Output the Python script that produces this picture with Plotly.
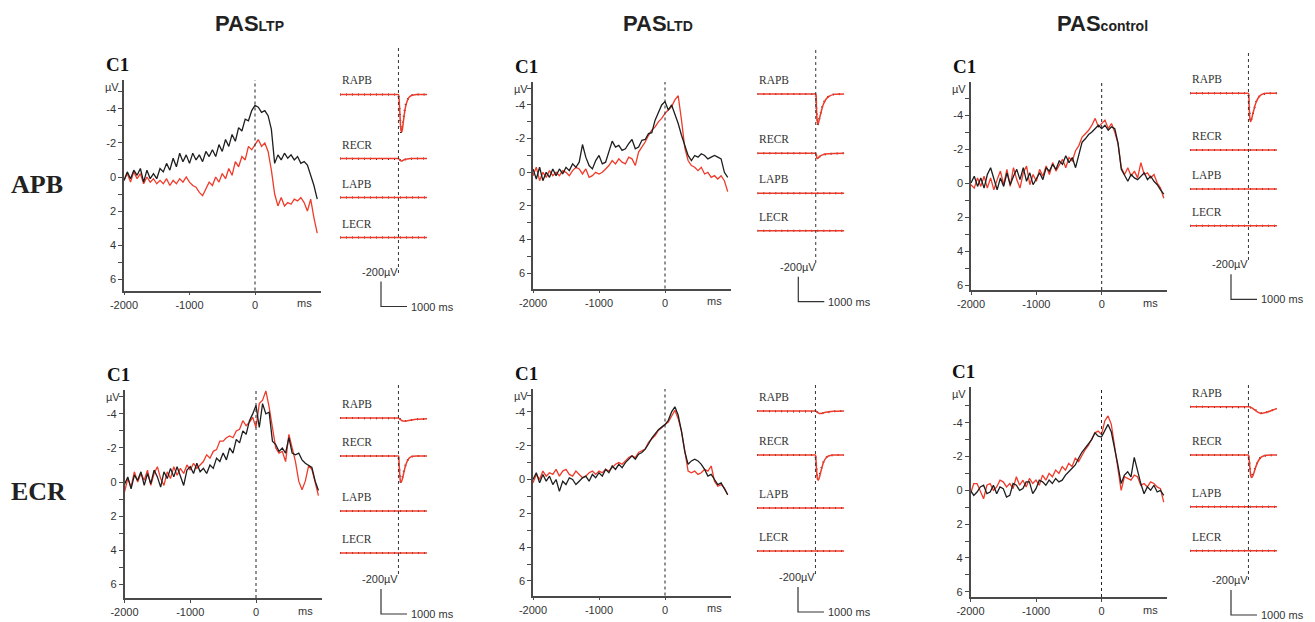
import plotly.graph_objects as go

W, H = 1315, 622
PAGE_OFF = 8            # default body margin of the html page
FW, FH = W - PAGE_OFF, H - PAGE_OFF

# ---------------- text content ----------------
COLUMN_TITLES = [("PAS", "LTP"), ("PAS", "LTD"), ("PAS", "control")]
ROW_LABELS = ["APB", "ECR"]
PANEL_LABEL = "C1"
EMG_CHANNELS = ["RAPB", "RECR", "LAPB", "LECR"]
X_TICKS = [-2000, -1000, 0]
X_TICK_TEXT = ["-2000", "-1000", "0"]
Y_TICKS = [-5, -4, -3, -2, -1, 0, 1, 2, 3, 4, 5, 6]
Y_TICK_TEXT = ["", "-4", "", "-2", "", "0", "", "2", "", "4", "", "6"]

# ---------------- MRCP data (µV, 50 ms steps, -2000 .. 950 ms) ----------------
TIME_MS = list(range(-2000, 1000, 50))

LTP_APB_BLACK = [0.2, -0.3, 0.1, -0.4, -0.1, -0.5, 0.3, -0.4, 0.1, -0.2,
                 0.1, -0.5, -0.3, -0.8, -0.4, -1.1, -0.6, -1.4, -0.9, -1.3,
                 -0.8, -1.4, -1.0, -1.3, -0.9, -1.5, -1.2, -1.6, -1.2, -1.9,
                 -1.5, -2.2, -1.8, -2.5, -2.1, -2.9, -2.7, -3.4, -3.3, -3.9,
                 -4.2, -4.1, -3.8, -3.9, -3.6, -2.8, -0.8, -1.3, -1.0, -1.4,
                 -1.1, -1.3, -1.0, -1.2, -0.8, -0.9, -0.7, -0.1, 0.5, 1.3]
LTP_APB_RED = [0.2, -0.2, 0.3, -0.3, 0.1, -0.2, 0.4, 0.0, 0.3, 0.1,
               0.4, 0.2, 0.4, 0.1, 0.5, 0.2, 0.4, 0.1, 0.3, 0.0,
               0.3, 0.5, 0.6, 0.9, 1.1, 0.7, 0.3, 0.5, 0.0, 0.3,
               -0.2, 0.1, -0.5, -0.1, -0.9, -0.6, -1.2, -1.0, -1.8, -1.6,
               -1.9, -2.2, -1.8, -2.0, -1.5, -0.4, 1.0, 1.7, 1.2, 1.7,
               1.5, 1.6, 1.3, 1.4, 1.2, 1.5, 2.0, 1.3, 2.4, 3.3]

LTD_APB_BLACK = [-0.2, 0.4, -0.3, 0.5, 0.0, 0.3, -0.2, 0.2, -0.2, 0.1,
                 -0.3, -0.1, -0.5, -0.3, -0.6, -1.65, -0.9, -0.4, -0.2, -0.7,
                 -1.0, -0.5, -0.6, -1.3, -1.85, -1.5, -1.6, -1.3, -1.4, -1.7,
                 -1.95, -1.4, -1.5, -1.9, -1.95, -2.3, -2.35, -3.1, -3.5, -4.0,
                 -4.2, -3.7, -4.0, -3.5, -2.9, -2.2, -1.55, -1.0, -0.7, -1.0,
                 -0.9, -1.1, -1.0, -0.8, -0.9, -1.0, -0.9, -0.8, 0.0, 0.3]
LTD_APB_RED = [0.2, -0.3, 0.5, 0.0, 0.3, -0.1, 0.2, 0.0, 0.2, -0.1,
               0.0, 0.2, -0.1, -0.3, -0.2, 0.1, -0.2, 0.3, 0.2, 0.0,
               0.1, 0.0, -0.2, -0.4, -0.7, -0.5, -0.8, -0.6, -0.5, -0.9,
               -0.8, -0.4, -1.2, -1.5, -1.8, -2.2, -2.5, -2.7, -3.0, -3.2,
               -3.5, -3.7, -3.9, -4.3, -4.55, -3.1, -1.45, -0.7, -0.4, -0.3,
               -0.1, -0.3, 0.1, 0.0, 0.3, 0.2, 0.4, 0.2, 0.5, 1.15]

CTRL_APB_BLACK = [0.0, -0.4, 0.2, -0.3, 0.3, -0.5, -0.9, -0.2, 0.4, -0.3,
                  0.2, -0.6, 0.1, -0.4, -0.8, -0.2, -0.9, -0.1, -0.6, 0.1,
                  -0.3, -0.6, -0.2, -0.9, -0.7, -1.1, -0.8, -1.3, -1.1, -1.6,
                  -1.2, -1.5, -0.9, -1.6, -2.4, -2.6, -2.85, -3.0, -3.2, -3.4,
                  -3.2, -3.4, -3.1, -3.3, -3.2, -2.35, -0.8, -0.4, -0.1, -0.5,
                  -0.3, -0.2, -0.4, -0.6, -0.2, -0.4, -0.1, 0.1, 0.4, 0.65]
CTRL_APB_RED = [0.1, 0.3, -0.3, 0.2, -0.4, 0.3, -0.3, 0.4, -0.2, -0.7,
                0.1, -0.8, 0.2, -0.9, -0.2, 0.3, -0.6, -1.0, 0.1, -0.5,
                -0.1, -0.8, -0.4, -1.0, -0.5, -1.2, -0.7, -1.1, -1.4, -0.9,
                -1.5, -1.3, -1.9, -2.2, -2.7, -2.9, -3.1, -3.4, -3.8, -3.3,
                -3.5, -3.7, -3.2, -3.5, -3.0, -2.3, -0.9, -0.5, -0.9, -0.4,
                -0.7, -0.3, -1.2, -0.5, -0.6, -0.3, -0.5, 0.0, 0.3, 0.9]

LTP_ECR_BLACK = [0.15, -0.3, 0.4, -0.4, -0.1, -0.6, 0.2, -0.5, 0.1, -0.7,
                 -0.3, 0.3, -0.6, -0.2, -0.8, -0.3, -0.9, -0.4, 0.2, -0.7,
                 -0.9, -0.5, -1.1, -0.6, -0.8, -0.5, -1.0, -0.8, -1.4, -1.2,
                 -1.7, -1.3, -2.0, -1.7, -2.5, -2.3, -3.0, -2.8, -3.6, -4.0,
                 -4.5, -3.2, -4.6, -4.0, -4.1, -2.4, -2.2, -1.8, -2.0, -1.7,
                 -2.6, -1.7, -1.6, -1.7, -1.3, -1.1, -0.95, -0.85, -0.05, 0.5]
LTP_ECR_RED = [0.6, -0.2, 0.3, -0.6, 0.0, -0.5, -0.1, -0.7, 0.2, -0.5,
               -0.9, -0.2, 0.2, -0.6, -0.2, -0.9, -0.4, -0.8, -0.5, -1.0,
               -0.7, -1.1, -0.8, -1.0, -1.2, -1.6, -1.4, -1.8, -1.9, -2.4,
               -2.4, -2.6, -2.7, -2.6, -3.0, -3.1, -3.6, -3.3, -3.5, -3.8,
               -3.2, -4.6, -4.8, -5.35, -4.4, -3.2, -2.0, -1.7, -1.8, -1.2,
               -2.8, -2.0, -1.2, -0.05, 0.45, -0.05, -0.95, -0.75, -0.05, 0.8]

LTD_ECR_BLACK = [0.0, -0.4, 0.2, -0.3, 0.1, -0.2, 0.3, 0.0, 0.7, 0.1,
                 0.3, -0.1, 0.0, 0.3, 0.1, -0.1, -0.2, 0.1, -0.3, -0.1,
                 -0.4, -0.2, -0.6, -0.4, -0.8, -0.6, -0.9, -0.7, -1.0, -1.2,
                 -1.4, -1.2, -1.5, -1.6, -1.8, -2.1, -2.45, -2.7, -2.95, -3.1,
                 -3.25, -3.5, -4.0, -4.3, -3.8, -2.85, -1.65, -0.9, -1.1, -1.2,
                 -1.1, -0.9, -0.6, -0.2, -0.3, 0.0, 0.3, 0.2, 0.6, 0.9]
LTD_ECR_RED = [0.2, -0.3, 0.0, -0.5, -0.2, -0.4, -0.3, -0.6, -0.2, -0.5,
               -0.6, -0.3, -0.2, -0.5, -0.3, -0.1, -0.2, -0.4, -0.5, -0.3,
               -0.5, -0.4, -0.6, -0.5, -0.7, -0.9, -1.0, -0.9, -1.1, -1.3,
               -1.4, -1.3, -1.6, -1.7, -1.8, -2.2, -2.4, -2.6, -2.9, -3.1,
               -3.25, -3.4, -3.8, -4.1, -3.6, -2.85, -1.7, -0.5, -0.4, -0.5,
               -0.3, -0.4, -0.6, -0.5, -0.8, 0.1, 0.4, 0.3, 0.5, 0.9]

CTRL_ECR_BLACK = [0.0, 0.3, 0.1, -0.2, -0.3, 0.2, 0.1, -0.3, 0.2, -0.2,
                  -0.1, 0.4, 0.3, -0.4, -0.3, 0.0, -0.1, -0.5, -0.5, 0.2,
                  -0.1, -0.6, -0.5, -0.3, -0.6, -0.4, -0.7, -0.5, -0.6, -0.9,
                  -1.1, -1.3, -1.5, -1.9, -2.25, -2.5, -2.75, -3.0, -3.4, -3.2,
                  -3.15, -3.5, -3.9, -3.45, -2.55, -1.5, -0.4, -0.9, -1.1, -0.8,
                  -1.95, -1.1, -0.4, 0.2, -0.2, 0.0, -0.3, 0.1, 0.0, 0.3]
CTRL_ECR_RED = [0.2, -0.4, -0.4, 0.1, 0.5, -0.3, -0.4, 0.0, -0.2, -0.6,
                -0.5, -0.2, -0.4, -0.1, -0.8, -0.3, -0.6, -0.2, -0.7, -0.4,
                -0.6, -0.3, -0.9, -0.6, -1.0, -0.8, -1.2, -1.0, -1.4, -1.2,
                -1.6, -1.4, -1.9, -1.7, -2.05, -2.4, -2.65, -3.0, -3.4, -3.5,
                -3.3, -4.1, -4.4, -3.9, -2.6, -1.5, 0.0, -0.8, -0.7, -0.6,
                -0.9, -0.8, -0.3, -0.4, -0.2, -0.5, -0.4, -0.2, -0.1, 0.7]

# ---------------- EMG data (µV deflection, + = downward) ----------------
EMG_T = [-2250, -1800, -1200, -600, -100, 0, 25, 50, 75, 100, 125, 150,
         200, 250, 300, 400, 500, 700, 1100]
EMG_FLAT = [0, 0, 0, 0, 0, 0, 0, 0, 0, 0, 0, 0, 0, 0, 0, 0, 0, 0, 0]

LTP_APB_RAPB_RED = [0, 0, 0, 0, 0, 0, 40, 130, 230, 290, 300, 280, 200, 125, 75, 25, 8, 0, 0]
LTP_APB_RAPB_BLACK = [0, 0, 0, 0, 0, 0, 60, 180, 270, 310, 290, 250, 170, 105, 60, 20, 5, 0, 0]
LTP_APB_RECR = [0, 0, 0, 0, 0, 0, 5, 10, 15, 20, 20, 18, 12, 8, 5, 2, 0, 0, 0]

LTD_APB_RAPB_RED = [0, 0, 0, 0, 0, 0, 100, 200, 240, 235, 215, 190, 150, 110, 80, 40, 20, 3, 0]
LTD_APB_RAPB_BLACK = [0, 0, 0, 0, 0, 0, 120, 225, 250, 230, 205, 180, 140, 100, 70, 35, 15, 2, 0]
LTD_APB_RECR = [0, 0, 0, 0, 0, 0, 20, 40, 40, 35, 30, 25, 18, 14, 10, 6, 4, 2, 0]

CTRL_APB_RAPB_RED = [0, 0, 0, 0, 0, 0, 90, 190, 225, 220, 205, 180, 140, 100, 70, 30, 10, 0, 0]
CTRL_APB_RAPB_BLACK = [0, 0, 0, 0, 0, 0, 100, 200, 230, 215, 195, 170, 130, 95, 65, 28, 9, 0, 0]

LTP_ECR_RAPB = [0, 0, 0, 0, 0, 0, 3, 8, 12, 16, 20, 22, 25, 25, 23, 20, 16, 10, 6]
LTP_ECR_RECR_RED = [0, 0, 0, 0, 0, 0, 60, 150, 200, 210, 200, 185, 140, 95, 60, 20, 5, 0, 0]
LTP_ECR_RECR_BLACK = [0, 0, 0, 0, 0, 0, 70, 165, 210, 205, 190, 170, 125, 85, 52, 16, 4, 0, 0]

LTD_ECR_RAPB = [0, 0, 0, 0, 0, 0, 2, 6, 10, 14, 17, 20, 20, 18, 15, 10, 6, 2, 0]
LTD_ECR_RECR_RED = [0, 0, 0, 0, 0, 0, 55, 140, 190, 200, 195, 180, 140, 100, 65, 25, 8, 0, 0]
LTD_ECR_RECR_BLACK = [0, 0, 0, 0, 0, 0, 65, 155, 200, 195, 185, 165, 125, 90, 58, 22, 6, 0, 0]

CTRL_ECR_RAPB = [0, 0, 0, 0, 0, 0, 0, 2, 4, 6, 9, 12, 20, 28, 35, 47, 54, 45, 14]
CTRL_ECR_RECR_RED = [0, 0, 0, 0, 0, 0, 30, 90, 140, 175, 180, 175, 150, 115, 85, 40, 15, 2, 0]
CTRL_ECR_RECR_BLACK = [0, 0, 0, 0, 0, 0, 35, 100, 150, 178, 178, 170, 142, 108, 80, 36, 13, 2, 0]

SCALE_UV = 200
SCALE_MS = 1000
SCALE_Y_TEXT = "-200µV"
SCALE_X_TEXT = "1000 ms"

PANELS = [
    dict(black=LTP_APB_BLACK, red=LTP_APB_RED,
         emg_black=[LTP_APB_RAPB_BLACK, LTP_APB_RECR, EMG_FLAT, EMG_FLAT],
         emg_red=[LTP_APB_RAPB_RED, LTP_APB_RECR, EMG_FLAT, EMG_FLAT]),
    dict(black=LTD_APB_BLACK, red=LTD_APB_RED,
         emg_black=[LTD_APB_RAPB_BLACK, LTD_APB_RECR, EMG_FLAT, EMG_FLAT],
         emg_red=[LTD_APB_RAPB_RED, LTD_APB_RECR, EMG_FLAT, EMG_FLAT]),
    dict(black=CTRL_APB_BLACK, red=CTRL_APB_RED,
         emg_black=[CTRL_APB_RAPB_BLACK, EMG_FLAT, EMG_FLAT, EMG_FLAT],
         emg_red=[CTRL_APB_RAPB_RED, EMG_FLAT, EMG_FLAT, EMG_FLAT]),
    dict(black=LTP_ECR_BLACK, red=LTP_ECR_RED,
         emg_black=[LTP_ECR_RAPB, LTP_ECR_RECR_BLACK, EMG_FLAT, EMG_FLAT],
         emg_red=[LTP_ECR_RAPB, LTP_ECR_RECR_RED, EMG_FLAT, EMG_FLAT]),
    dict(black=LTD_ECR_BLACK, red=LTD_ECR_RED,
         emg_black=[LTD_ECR_RAPB, LTD_ECR_RECR_BLACK, EMG_FLAT, EMG_FLAT],
         emg_red=[LTD_ECR_RAPB, LTD_ECR_RECR_RED, EMG_FLAT, EMG_FLAT]),
    dict(black=CTRL_ECR_BLACK, red=CTRL_ECR_RED,
         emg_black=[CTRL_ECR_RAPB, CTRL_ECR_RECR_BLACK, EMG_FLAT, EMG_FLAT],
         emg_red=[CTRL_ECR_RAPB, CTRL_ECR_RECR_RED, EMG_FLAT, EMG_FLAT]),
]

# ---------------- layout geometry (target pixels in the window) ----------------
MAIN_PX = [
    dict(xa=124, xz=255, xe=321, y0=177, ky=17.03, yt=80, yb=290.5),
    dict(xa=533, xz=665, xe=731, y0=172.3, ky=16.83, yt=82, yb=288.5),
    dict(xa=971, xz=1101.7, xe=1167, y0=183, ky=17.0, yt=82, yb=290),
    dict(xa=124.5, xz=256, xe=321.5, y0=482, ky=17.03, yt=390, yb=598),
    dict(xa=533, xz=665, xe=731, y0=479.5, ky=16.9, yt=389, yb=595.5),
    dict(xa=970.5, xz=1101.5, xe=1167, y0=490.3, ky=16.9, yt=387, yb=597),
]
EMG_PX = [
    dict(xl=340, base=[94.5, 158.5, 197.5, 237.5], dtop=48, dbot=273, barx=381, barb=306.5),
    dict(xl=757.3, base=[94, 153.3, 193.3, 230.7], dtop=50, dbot=264, barx=798.3, barb=301.7),
    dict(xl=1190, base=[93.3, 150, 189, 225.7], dtop=53, dbot=262, barx=1231, barb=299.3),
    dict(xl=340, base=[418, 456, 511, 553], dtop=385, dbot=577, barx=381, barb=614),
    dict(xl=757, base=[411, 455, 508, 551], dtop=385, dbot=577, barx=798, barb=612),
    dict(xl=1190, base=[406.7, 455, 506.7, 550.7], dtop=385, dbot=580, barx=1231, barb=615),
]
MS_PER_PX = 38.5
UV_PER_PX = 8.0
EMG_T0, EMG_T1 = -2250, 1100

BLACK = "#1e1e1e"
RED = "#f03a2a"
AXC = "#4a4a4a"
TXT = "#333333"
SANS = "Liberation Sans, Arial, sans-serif"
SERIF = "Liberation Serif, Times New Roman, serif"


def fx(px):
    return (px - PAGE_OFF) / FW


def fy(py):
    return 1 - (py - PAGE_OFF) / FH


fig = go.Figure()
layout_axes = {}
annotations = []
shapes = []

for i, (pan, mp, ep) in enumerate(zip(PANELS, MAIN_PX, EMG_PX)):
    # ---- main MRCP axes ----
    n = i + 1
    xs = "x" if n == 1 else f"x{n}"
    ys = "y" if n == 1 else f"y{n}"
    k = (mp["xz"] - mp["xa"]) / 2000.0
    xr = [-2000, (mp["xe"] - mp["xz"]) / k]
    yr = [(mp["yb"] - mp["y0"]) / mp["ky"], (mp["yt"] - mp["y0"]) / mp["ky"]]
    layout_axes["xaxis" if n == 1 else f"xaxis{n}"] = dict(
        domain=[fx(mp["xa"]), fx(mp["xe"])], range=xr, anchor=ys,
        showgrid=False, zeroline=False, showline=True, linecolor=AXC, linewidth=1.6,
        ticks="outside", ticklen=3, tickcolor=AXC, tickwidth=1,
        tickvals=X_TICKS, ticktext=X_TICK_TEXT,
        tickfont=dict(family=SANS, size=11, color=TXT), fixedrange=True)
    layout_axes["yaxis" if n == 1 else f"yaxis{n}"] = dict(
        domain=[fy(mp["yb"]), fy(mp["yt"])], range=yr, anchor=xs,
        showgrid=False, zeroline=False, showline=True, linecolor=AXC, linewidth=1.6,
        ticks="outside", ticklen=4, tickcolor=AXC, tickwidth=1,
        tickvals=Y_TICKS, ticktext=Y_TICK_TEXT,
        tickfont=dict(family=SANS, size=11, color=TXT), fixedrange=True)
    fig.add_trace(go.Scatter(x=TIME_MS, y=pan["red"], mode="lines", xaxis=xs, yaxis=ys,
                             line=dict(color=RED, width=1.3), showlegend=False, hoverinfo="skip"))
    fig.add_trace(go.Scatter(x=TIME_MS, y=pan["black"], mode="lines", xaxis=xs, yaxis=ys,
                             line=dict(color=BLACK, width=1.3), showlegend=False, hoverinfo="skip"))
    shapes.append(dict(type="line", xref=xs, yref=f"{ys} domain", x0=0, x1=0, y0=0, y1=1,
                       line=dict(color="#222", width=1, dash="dot")))
    annotations.append(dict(text=f"<b>{PANEL_LABEL}</b>", xref="paper", yref="paper",
                            x=fx(mp["xa"] - 20), y=fy(mp["yt"] - 16), xanchor="left", yanchor="middle",
                            showarrow=False, font=dict(family=SERIF, size=19, color="#111")))
    annotations.append(dict(text="µV", xref="paper", yref="paper",
                            x=fx(mp["xa"] - 3), y=fy(mp["yt"] + 7), xanchor="right", yanchor="middle",
                            showarrow=False, font=dict(family=SANS, size=11, color=TXT)))
    annotations.append(dict(text="ms", xref="paper", yref="paper",
                            x=fx(mp["xz"] + 49), y=fy(mp["yb"] + 12.5), xanchor="center", yanchor="middle",
                            showarrow=False, font=dict(family=SANS, size=11, color=TXT)))

    # ---- EMG inset axes ----
    m = i + 7
    exs, eys = f"x{m}", f"y{m}"
    b0 = ep["base"][0]
    ex_right = ep["xl"] + (EMG_T1 - EMG_T0) / MS_PER_PX
    ey_top = ep["dtop"] - 2
    ey_bot = ep["barb"] + 2
    layout_axes[f"xaxis{m}"] = dict(domain=[fx(ep["xl"]), fx(ex_right)], range=[EMG_T0, EMG_T1],
                                    anchor=eys, visible=False, fixedrange=True)
    layout_axes[f"yaxis{m}"] = dict(domain=[fy(ey_bot), fy(ey_top)],
                                    range=[(ey_bot - b0) * UV_PER_PX, (ey_top - b0) * UV_PER_PX],
                                    anchor=exs, visible=False, fixedrange=True)
    for c, name in enumerate(EMG_CHANNELS):
        off = (ep["base"][c] - b0) * UV_PER_PX
        fig.add_trace(go.Scatter(x=EMG_T, y=[v + off for v in pan["emg_black"][c]], mode="lines",
                                 xaxis=exs, yaxis=eys, line=dict(color="#222", width=2.0, dash="1px,5px"),
                                 showlegend=False, hoverinfo="skip"))
    for c, name in enumerate(EMG_CHANNELS):
        off = (ep["base"][c] - b0) * UV_PER_PX
        fig.add_trace(go.Scatter(x=EMG_T, y=[v + off for v in pan["emg_red"][c]], mode="lines",
                                 xaxis=exs, yaxis=eys, line=dict(color=RED, width=1.5, shape="spline", smoothing=0.6),
                                 showlegend=False, hoverinfo="skip"))
        annotations.append(dict(text=name, xref="paper", yref="paper",
                                x=fx(ep["xl"]), y=fy(ep["base"][c] - 14), xanchor="left", yanchor="middle",
                                showarrow=False, font=dict(family=SERIF, size=11.5, color=TXT)))
    shapes.append(dict(type="line", xref=exs, yref=eys, x0=0, x1=0,
                       y0=(ep["dtop"] - b0) * UV_PER_PX, y1=(ep["dbot"] - b0) * UV_PER_PX,
                       line=dict(color="#333", width=1, dash="dot")))
    # scale bar
    tb = EMG_T0 + (ep["barx"] - ep["xl"]) * MS_PER_PX
    yb = (ep["barb"] - b0) * UV_PER_PX
    fig.add_trace(go.Scatter(x=[tb, tb, tb + SCALE_MS], y=[yb - SCALE_UV, yb, yb], mode="lines",
                             xaxis=exs, yaxis=eys, line=dict(color="#333", width=1.2),
                             showlegend=False, hoverinfo="skip"))
    x_dash = ep["xl"] + (0 - EMG_T0) / MS_PER_PX
    annotations.append(dict(text=SCALE_Y_TEXT, xref="paper", yref="paper",
                            x=fx(x_dash + 2), y=fy(ep["barb"] - 25 - 10), xanchor="right", yanchor="middle",
                            showarrow=False, font=dict(family=SANS, size=11, color=TXT)))
    annotations.append(dict(text=SCALE_X_TEXT, xref="paper", yref="paper",
                            x=fx(ep["barx"] + 28), y=fy(ep["barb"]), xanchor="left", yanchor="middle",
                            showarrow=False, font=dict(family=SANS, size=11, color=TXT)))

# column titles
TITLE_PX = [(249, 8.5), (658, 8.5), (1102, 8.5)]
for (main, sub), (tx, ty) in zip(COLUMN_TITLES, TITLE_PX):
    annotations.append(dict(text=f"<b>{main}<span style='font-size:14px'>{sub}</span></b>",
                            xref="paper", yref="paper", x=fx(tx), y=fy(ty),
                            xanchor="center", yanchor="top", showarrow=False,
                            font=dict(family=SANS, size=22, color="#222")))
# row labels
for lab, ry in zip(ROW_LABELS, [184, 491]):
    annotations.append(dict(text=f"<b>{lab}</b>", xref="paper", yref="paper", x=fx(9), y=fy(ry),
                            xanchor="left", yanchor="middle", showarrow=False,
                            font=dict(family=SERIF, size=26, color="#222")))

fig.update_layout(width=FW, height=FH,
                  margin=dict(l=0, r=0, t=0, b=0, pad=0, autoexpand=False),
                  paper_bgcolor="white", plot_bgcolor="rgba(0,0,0,0)",
                  showlegend=False, annotations=annotations, shapes=shapes, **layout_axes)
fig.write_html("out.html")
